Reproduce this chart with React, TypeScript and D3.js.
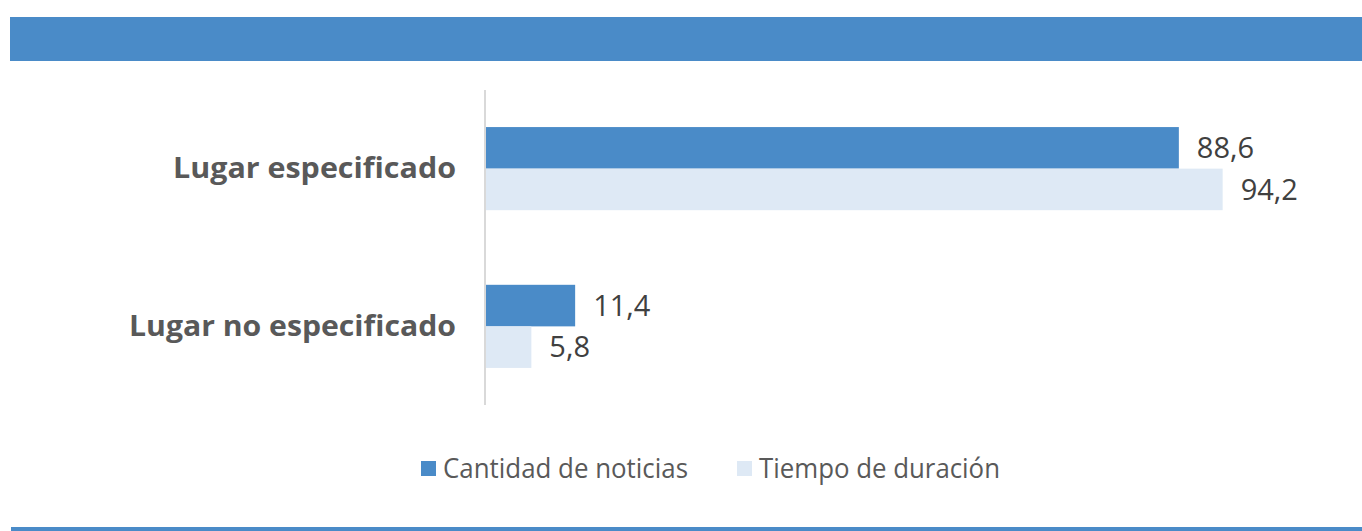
import React from "react";
import * as d3 from "d3";

// categories (top to bottom) and the two series, in percent
const categories = ["Lugar especificado", "Lugar no especificado"];
const seriesNames = ["Cantidad de noticias", "Tiempo de duración"];
const cantidad = [88.6, 11.4];
const tiempo = [94.2, 5.8];

const colors = ["#4a8bc8", "#dee9f5"];

const W = 1362;
const H = 531;

const fmt = (v: number) => v.toFixed(1).replace(".", ",");

export default function App() {
  const x = d3.scaleLinear().domain([0, 100]).range([486, 1268]);

  const y = d3
    .scaleBand()
    .domain(categories)
    .range([90, 405])
    .paddingInner(0.473)
    .paddingOuter(0.235);

  const sub = d3
    .scaleBand()
    .domain(seriesNames)
    .range([0, y.bandwidth()]);

  const values = [cantidad, tiempo];

  // legend layout
  const legend = [
    { name: seriesNames[0], color: colors[0], x: 421, w: 245 },
    { name: seriesNames[1], color: colors[1], x: 737, w: 241 },
  ];

  return (
    <svg
      width={W}
      height={H}
      style={{ position: "absolute", left: 0, top: 0, background: "#fff" }}
      fontFamily="'Open Sans', sans-serif"
    >
      {/* header band and footer rule */}
      <rect x={10} y={17} width={W - 10} height={44} fill="#4a8bc8" />
      <rect x={11} y={527} width={W - 11} height={4} fill="#4a8bc8" />

      {/* bars */}
      {seriesNames.map((s, si) => (
        <g key={s}>
          {categories.map((c, ci) => {
            const v = values[si][ci];
            const y0 = (y(c) ?? 0) + (sub(s) ?? 0);
            return (
              <g key={c}>
                <rect
                  x={x(0)}
                  y={y0}
                  width={x(v) - x(0)}
                  height={sub.bandwidth()}
                  fill={colors[si]}
                />
                <text
                  x={x(v) + 18}
                  y={y0 + sub.bandwidth() / 2}
                  dy="0.35em"
                  fontSize={29}
                  fill="#404040"
                >
                  {fmt(v)}
                </text>
              </g>
            );
          })}
        </g>
      ))}

      {/* axis line */}
      <line x1={485} x2={485} y1={90} y2={405} stroke="#d9d9d9" strokeWidth={2} />

      {/* category labels */}
      {categories.map((c, i) => (
        <text
          key={c}
          x={456}
          y={(y(c) ?? 0) + y.bandwidth() / 2}
          dy="0.34em"
          textAnchor="end"
          fontSize={29}
          fontWeight="bold"
          fill="#595959"
          textLength={i === 0 ? 283 : 327}
          lengthAdjust="spacingAndGlyphs"
        >
          {c}
        </text>
      ))}

      {/* legend */}
      {legend.map((l) => (
        <g key={l.name}>
          <rect x={l.x} y={461} width={15} height={15} fill={l.color} />
          <text
            x={l.x + 22}
            y={468}
            dy="0.36em"
            fontSize={27}
            fill="#595959"
            textLength={l.w}
            lengthAdjust="spacingAndGlyphs"
          >
            {l.name}
          </text>
        </g>
      ))}
    </svg>
  );
}
